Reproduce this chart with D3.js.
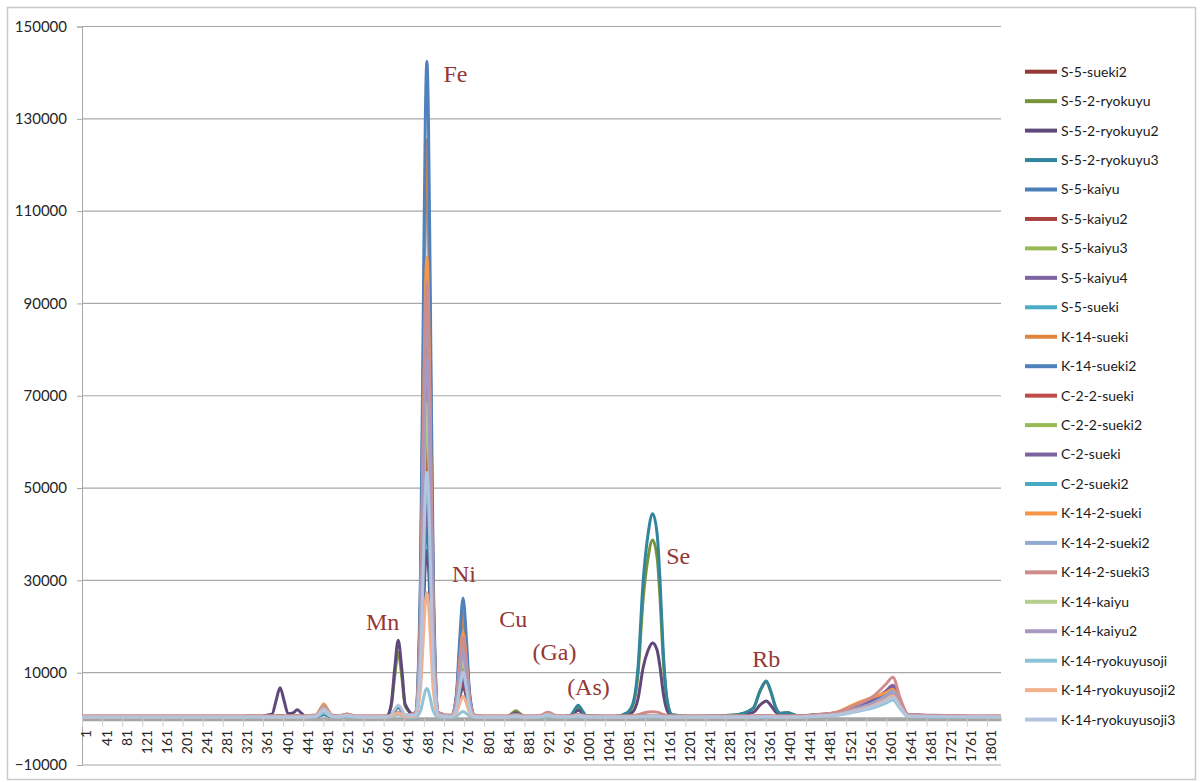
<!DOCTYPE html>
<html>
<head>
<meta charset="utf-8">
<script src="https://cdn.jsdelivr.net/npm/d3@7"></script>
<style>
  body { margin: 0; background: #fff; }
  text { font-family: Lato, "Open Sans", sans-serif; }
</style>
</head>
<body>
<script>
const channels = [1, 300, 340,
  379, 387, 395, 403, 411, 421, 429, 437, 445,
  466, 474, 482, 490, 498,
  512, 520, 528, 536, 544,
  580,
  607, 616, 623, 630, 637, 644,
  664, 674, 680, 684, 687, 690, 694, 700, 710,
  736, 746, 752, 759, 766, 772, 782,
  820,
  848, 856, 864, 872, 880,
  912, 920, 928, 936, 944,
  972, 980, 988, 996, 1004,
  1060,
  1085, 1097, 1107, 1117, 1127, 1136, 1145, 1151, 1157, 1165, 1175,
  1220, 1300,
  1336, 1350, 1362, 1372, 1381, 1390,
  1404, 1422,
  1450, 1500, 1540, 1575, 1600, 1614, 1628, 1645,
  1829];

const seriesNames = ["S-5-sueki2", "S-5-2-ryokuyu", "S-5-2-ryokuyu2", "S-5-2-ryokuyu3",
  "S-5-kaiyu", "S-5-kaiyu2", "S-5-kaiyu3", "S-5-kaiyu4", "S-5-sueki", "K-14-sueki",
  "K-14-sueki2", "C-2-2-sueki", "C-2-2-sueki2", "C-2-sueki", "C-2-sueki2", "K-14-2-sueki",
  "K-14-2-sueki2", "K-14-2-sueki3", "K-14-kaiyu", "K-14-kaiyu2", "K-14-ryokuyusoji",
  "K-14-ryokuyusoji2", "K-14-ryokuyusoji3"];

const seriesColors = ["#953735", "#77933c", "#5f497a", "#31859c", "#4a7ebb", "#a7423f",
  "#98b954", "#7e62a1", "#4bacc6", "#e0853e", "#4f81bd", "#be4b48", "#98b954", "#7d60a0",
  "#46aac5", "#f79646", "#8fa9d1", "#cf8c8a", "#b5ce8d", "#a898c2", "#8cc3d6", "#f2b08d",
  "#b4c4df"];

const S5sueki2 = [400, 400, 450, 400, 400, 400, 400, 400, 400, 400, 400, 400,
  600, 1610, 2600, 1610, 600, 450, 680, 900, 680, 450, 400,
  410, 540, 970, 1300, 970, 540,
  910, 15370, 46540, 67490, 73400, 67490, 46540, 15370, 910,
  470, 2450, 6720, 10400, 6720, 2450, 470, 400,
  430, 570, 700, 570, 430, 450, 730, 1000, 730, 450, 440, 620, 800, 620, 440, 400,
  400, 410, 450, 530, 580, 600, 580, 530, 470, 420, 400, 400, 400,
  420, 470, 500, 465, 420, 400, 400, 400,
  660, 1080, 2220, 3480, 4980, 6000, 3300, 720, 400];

const S52ryokuyu = [450, 450, 450, 480, 620, 750, 620, 490, 560, 650, 560, 470,
  500, 780, 1050, 780, 500, 480, 620, 750, 620, 480, 450,
  550, 2690, 9270, 14450, 9270, 2690,
  770, 9880, 29520, 42720, 46450, 42720, 29520, 9880, 770,
  510, 2190, 5820, 8950, 5820, 2190, 510, 450,
  570, 1170, 1750, 1170, 570, 510, 840, 1150, 840, 510, 620, 1500, 2350, 1500, 620, 500,
  1220, 3020, 9800, 25730, 34920, 38750, 34920, 25730, 13090, 3630, 830, 500, 850,
  2260, 6040, 8000, 5550, 2400, 1210, 1300, 750,
  550, 900, 1850, 2900, 4150, 5000, 2750, 600, 450];

const S52ryokuyu2 = [450, 450, 450, 1020, 3920, 6750, 3920, 1100, 1280, 1950, 1280, 590,
  500, 730, 950, 730, 500, 480, 620, 750, 620, 480, 450,
  570, 3110, 10910, 17050, 10910, 3110,
  700, 7830, 23200, 33530, 36450, 33530, 23200, 7830, 700,
  500, 1780, 4560, 6950, 4560, 1780, 500, 450,
  520, 890, 1250, 890, 520, 530, 950, 1350, 950, 530, 580, 1220, 1850, 1220, 580, 500,
  770, 1520, 4350, 11010, 14850, 16450, 14850, 11010, 5730, 1780, 610, 500, 750,
  1390, 3010, 3850, 2800, 1450, 940, 1000, 650,
  770, 1260, 2590, 4060, 5810, 7000, 3850, 840, 450];

const S52ryokuyu3 = [450, 450, 450, 470, 560, 650, 560, 475, 505, 550, 505, 460,
  500, 730, 950, 730, 500, 480, 620, 750, 620, 480, 450,
  465, 770, 1710, 2450, 1710, 770,
  740, 8860, 26360, 38130, 41450, 38130, 26360, 8860, 740,
  500, 1990, 5190, 7950, 5190, 1990, 500, 450,
  500, 780, 1050, 780, 500, 510, 840, 1150, 840, 510, 680, 1830, 2950, 1830, 680, 500,
  1330, 3400, 11190, 29490, 40050, 44450, 40050, 29490, 14970, 4100, 890, 550, 850,
  2300, 6180, 8200, 5680, 2440, 1220, 1350, 750,
  530, 860, 1780, 2780, 3980, 4800, 2640, 580, 450];

const S5kaiyu = [400, 400, 450, 400, 400, 400, 400, 400, 400, 400, 400, 400,
  580, 1500, 2400, 1500, 580, 450, 680, 900, 680, 450, 400,
  410, 560, 1030, 1400, 1030, 560,
  1240, 25000, 76240, 110680, 120400, 110680, 76240, 25000, 1240,
  550, 4910, 14300, 22400, 14300, 4910, 550, 400,
  430, 570, 700, 570, 430, 450, 680, 900, 680, 450, 440, 620, 800, 620, 440, 400,
  400, 410, 450, 530, 580, 600, 580, 530, 470, 420, 400, 400, 400,
  420, 470, 500, 465, 420, 400, 400, 400,
  750, 1220, 2520, 3940, 5640, 6800, 3740, 820, 400];

const S5kaiyu2 = [400, 400, 450, 400, 400, 400, 400, 400, 400, 400, 400, 400,
  560, 1390, 2200, 1390, 560, 440, 620, 800, 620, 440, 400,
  410, 530, 900, 1200, 900, 530,
  820, 12700, 38320, 55540, 60400, 55540, 38320, 12700, 820,
  450, 1940, 5140, 7900, 5140, 1940, 450, 400,
  430, 570, 700, 570, 430, 450, 680, 900, 680, 450, 430, 570, 700, 570, 430, 400,
  400, 410, 450, 530, 580, 600, 580, 530, 470, 420, 400, 400, 400,
  420, 470, 500, 465, 420, 400, 400, 400,
  610, 990, 2040, 3190, 4570, 5500, 3030, 660, 400];

const S5kaiyu3 = [400, 400, 450, 400, 400, 400, 400, 400, 400, 400, 400, 400,
  570, 1450, 2300, 1450, 570, 440, 620, 800, 620, 440, 400,
  410, 530, 900, 1200, 900, 530,
  890, 14750, 44640, 64730, 70400, 64730, 44640, 14750, 890,
  490, 2960, 8300, 12900, 8300, 2960, 490, 400,
  430, 570, 700, 570, 430, 450, 680, 900, 680, 450, 430, 570, 700, 570, 430, 400,
  400, 410, 450, 530, 580, 600, 580, 530, 470, 420, 400, 400, 400,
  420, 470, 500, 465, 420, 400, 400, 400,
  620, 1010, 2070, 3250, 4650, 5600, 3080, 670, 400];

const S5kaiyu4 = [400, 400, 450, 400, 400, 400, 400, 400, 400, 400, 400, 400,
  580, 1500, 2400, 1500, 580, 450, 680, 900, 680, 450, 400,
  410, 540, 970, 1300, 970, 540,
  720, 9830, 29470, 42670, 46400, 42670, 29470, 9830, 720,
  460, 2140, 5770, 8900, 5770, 2140, 460, 400,
  440, 620, 800, 620, 440, 470, 840, 1200, 840, 470, 430, 570, 700, 570, 430, 400,
  400, 410, 450, 530, 580, 600, 580, 530, 470, 420, 400, 400, 400,
  420, 470, 500, 465, 420, 400, 400, 400,
  800, 1310, 2700, 4230, 6060, 7300, 4020, 880, 400];

const S5sueki = [400, 400, 450, 400, 400, 400, 400, 400, 400, 400, 400, 400,
  580, 1500, 2400, 1500, 580, 450, 680, 900, 680, 450, 400,
  410, 540, 970, 1300, 970, 540,
  790, 11680, 35160, 50950, 55400, 50950, 35160, 11680, 790,
  470, 2450, 6720, 10400, 6720, 2450, 470, 400,
  430, 570, 700, 570, 430, 450, 680, 900, 680, 450, 430, 570, 700, 570, 430, 400,
  400, 410, 450, 530, 580, 600, 580, 530, 470, 420, 400, 400, 400,
  420, 470, 500, 465, 420, 400, 400, 400,
  610, 990, 2040, 3190, 4570, 5500, 3030, 660, 400];

const K14sueki = [400, 400, 450, 400, 400, 400, 400, 400, 400, 400, 400, 400,
  630, 1830, 3000, 1830, 630, 450, 730, 1000, 730, 450, 400,
  410, 560, 1030, 1400, 1030, 560,
  1280, 26030, 79400, 115280, 125400, 115280, 79400, 26030, 1280,
  560, 5010, 14620, 22900, 14620, 5010, 560, 400,
  430, 570, 700, 570, 430, 450, 730, 1000, 730, 450, 440, 620, 800, 620, 440, 400,
  410, 420, 470, 600, 670, 700, 670, 600, 500, 425, 405, 400, 400,
  420, 470, 500, 465, 420, 400, 400, 400,
  680, 1120, 2290, 3600, 5150, 6200, 3410, 740, 400];

const K14sueki2 = [400, 400, 450, 400, 400, 400, 400, 400, 400, 400, 400, 400,
  620, 1720, 2800, 1720, 620, 450, 730, 1000, 730, 450, 400,
  410, 560, 1030, 1400, 1030, 560,
  1390, 29510, 90140, 130900, 142400, 130900, 90140, 29510, 1390,
  580, 5690, 16710, 26200, 16710, 5690, 580, 400,
  430, 570, 700, 570, 430, 450, 730, 1000, 730, 450, 440, 620, 800, 620, 440, 400,
  410, 420, 470, 600, 670, 700, 670, 600, 500, 425, 405, 400, 400,
  420, 470, 500, 465, 420, 400, 400, 400,
  720, 1170, 2410, 3770, 5400, 6500, 3580, 780, 400];

const C22sueki = [400, 400, 450, 400, 400, 400, 400, 400, 400, 400, 400, 400,
  580, 1500, 2400, 1500, 580, 450, 680, 900, 680, 450, 400,
  410, 540, 970, 1300, 970, 540,
  800, 12090, 36420, 52780, 57400, 52780, 36420, 12090, 800,
  470, 2550, 7040, 10900, 7040, 2550, 470, 400,
  430, 570, 700, 570, 430, 460, 790, 1100, 790, 460, 430, 570, 700, 570, 430, 400,
  400, 410, 450, 530, 580, 600, 580, 530, 470, 420, 400, 400, 400,
  420, 470, 500, 465, 420, 400, 400, 400,
  640, 1040, 2150, 3360, 4810, 5800, 3190, 700, 400];

const C22sueki2 = [400, 400, 450, 400, 400, 400, 400, 400, 400, 400, 400, 400,
  580, 1500, 2400, 1500, 580, 450, 680, 900, 680, 450, 400,
  410, 540, 970, 1300, 970, 540,
  860, 13730, 41480, 60140, 65400, 60140, 41480, 13730, 860,
  480, 2860, 7980, 12400, 7980, 2860, 480, 400,
  430, 570, 700, 570, 430, 460, 790, 1100, 790, 460, 430, 570, 700, 570, 430, 400,
  400, 410, 450, 530, 580, 600, 580, 530, 470, 420, 400, 400, 400,
  420, 470, 500, 465, 420, 400, 400, 400,
  620, 1010, 2070, 3250, 4650, 5600, 3080, 670, 400];

const C2sueki = [400, 400, 450, 400, 400, 400, 400, 400, 400, 400, 400, 400,
  600, 1610, 2600, 1610, 600, 450, 680, 900, 680, 450, 400,
  410, 540, 970, 1300, 970, 540,
  960, 16800, 50960, 73920, 80400, 73920, 50960, 16800, 960,
  500, 3370, 9560, 14900, 9560, 3370, 500, 400,
  430, 570, 700, 570, 430, 460, 790, 1100, 790, 460, 430, 570, 700, 570, 430, 400,
  400, 410, 450, 530, 580, 600, 580, 530, 470, 420, 400, 400, 400,
  420, 470, 500, 465, 420, 400, 400, 400,
  750, 1220, 2520, 3940, 5640, 6800, 3740, 820, 400];

const C2sueki2 = [400, 400, 450, 400, 400, 400, 400, 400, 400, 400, 400, 400,
  580, 1500, 2400, 1500, 580, 450, 680, 900, 680, 450, 400,
  410, 540, 970, 1300, 970, 540,
  760, 11060, 33260, 48190, 52400, 48190, 33260, 11060, 760,
  470, 2350, 6400, 9900, 6400, 2350, 470, 400,
  430, 570, 700, 570, 430, 450, 730, 1000, 730, 450, 430, 570, 700, 570, 430, 400,
  400, 410, 450, 530, 580, 600, 580, 530, 470, 420, 400, 400, 400,
  420, 470, 500, 465, 420, 400, 400, 400,
  580, 950, 1960, 3070, 4400, 5300, 2920, 640, 400];

const K142sueki = [400, 400, 450, 400, 400, 400, 400, 400, 400, 400, 400, 400,
  650, 1940, 3200, 1940, 650, 450, 730, 1000, 730, 450, 400,
  410, 560, 1030, 1400, 1030, 560,
  1100, 20800, 63280, 91840, 99900, 91840, 63280, 20800, 1100,
  530, 4130, 11900, 18600, 11900, 4130, 530, 400,
  430, 570, 700, 570, 430, 460, 790, 1100, 790, 460, 440, 620, 800, 620, 440, 400,
  410, 420, 470, 600, 670, 700, 670, 600, 500, 425, 405, 400, 400,
  420, 470, 500, 465, 420, 400, 400, 400,
  700, 1400, 3300, 4700, 5700, 6400, 3500, 750, 400];

const K142sueki2 = [400, 400, 450, 400, 400, 400, 400, 400, 400, 400, 400, 400,
  620, 1720, 2800, 1720, 620, 450, 680, 900, 680, 450, 400,
  410, 540, 970, 1300, 970, 540,
  1020, 18440, 56020, 81270, 88400, 81270, 56020, 18440, 1020,
  510, 3680, 10510, 16400, 10510, 3680, 510, 400,
  430, 570, 700, 570, 430, 460, 790, 1100, 790, 460, 440, 620, 800, 620, 440, 400,
  410, 420, 470, 600, 670, 700, 670, 600, 500, 425, 405, 400, 400,
  420, 470, 500, 465, 420, 400, 400, 400,
  660, 1080, 2220, 3480, 4980, 6000, 3300, 720, 400];

const K142sueki3 = [650, 650, 700, 650, 650, 650, 650, 650, 650, 650, 650, 650,
  830, 1750, 2650, 1750, 830, 690, 870, 1050, 870, 690, 650,
  660, 760, 1090, 1350, 1090, 760,
  1310, 19920, 60060, 87040, 94650, 87040, 60060, 19920, 1310,
  770, 4140, 11390, 17650, 11390, 4140, 770, 650,
  680, 820, 950, 820, 680, 720, 1090, 1450, 1090, 720, 680, 820, 950, 820, 680, 650,
  670, 710, 870, 1240, 1460, 1550, 1460, 1240, 950, 730, 660, 650, 650,
  670, 720, 750, 715, 670, 655, 650, 650,
  750, 1300, 3000, 4900, 7500, 9000, 4600, 900, 650];

const K14kaiyu = [400, 400, 450, 400, 400, 400, 400, 400, 400, 400, 400, 400,
  580, 1500, 2400, 1500, 580, 440, 620, 800, 620, 440, 400,
  410, 530, 900, 1200, 900, 530,
  880, 14340, 43380, 62890, 68400, 62890, 43380, 14340, 880,
  490, 2960, 8300, 12900, 8300, 2960, 490, 400,
  430, 570, 700, 570, 430, 450, 730, 1000, 730, 450, 430, 570, 700, 570, 430, 400,
  400, 410, 450, 530, 580, 600, 580, 530, 470, 420, 400, 400, 400,
  420, 470, 500, 465, 420, 400, 400, 400,
  570, 940, 1920, 3020, 4320, 5200, 2860, 620, 400];

const K14kaiyu2 = [400, 400, 450, 400, 400, 400, 400, 400, 400, 400, 400, 400,
  580, 1500, 2400, 1500, 580, 440, 620, 800, 620, 440, 400,
  410, 530, 900, 1200, 900, 530,
  950, 16390, 49700, 72080, 78400, 72080, 49700, 16390, 950,
  500, 3270, 9250, 14400, 9250, 3270, 500, 400,
  430, 570, 700, 570, 430, 450, 730, 1000, 730, 450, 430, 570, 700, 570, 430, 400,
  400, 410, 450, 530, 580, 600, 580, 530, 470, 420, 400, 400, 400,
  420, 470, 500, 465, 420, 400, 400, 400,
  610, 990, 2040, 3190, 4570, 5500, 3030, 660, 400];

const K14ryokuyusoji = [300, 300, 320, 300, 300, 300, 300, 300, 300, 300, 300, 300,
  390, 850, 1300, 850, 390, 320, 410, 500, 410, 320, 300,
  300, 400, 680, 900, 680, 400,
  340, 1590, 4280, 6090, 6600, 6090, 4280, 1590, 340,
  310, 570, 1120, 1600, 1120, 570, 310, 300,
  310, 355, 400, 355, 310, 320, 410, 500, 410, 320, 310, 355, 400, 355, 310, 300,
  300, 305, 325, 365, 390, 400, 390, 365, 335, 310, 300, 300, 300,
  310, 335, 350, 330, 310, 300, 300, 300,
  450, 740, 1520, 2380, 3400, 4100, 2260, 490, 300];

const K14ryokuyusoji2 = [400, 400, 450, 400, 400, 400, 400, 400, 400, 400, 400, 400,
  560, 1390, 2200, 1390, 560, 440, 620, 800, 620, 440, 400,
  410, 530, 900, 1200, 900, 530,
  590, 5940, 17460, 25210, 27400, 25210, 17460, 5940, 590,
  430, 1320, 3240, 4900, 3240, 1320, 430, 400,
  420, 510, 600, 510, 420, 450, 680, 900, 680, 450, 430, 570, 700, 570, 430, 400,
  400, 410, 450, 530, 580, 600, 580, 530, 470, 420, 400, 400, 400,
  420, 470, 500, 465, 420, 400, 400, 400,
  550, 900, 1850, 2900, 4150, 5000, 2750, 600, 400];

const K14ryokuyusoji3 = [400, 400, 450, 400, 400, 400, 400, 400, 400, 400, 400, 400,
  540, 1280, 2000, 1280, 540, 440, 620, 800, 620, 440, 400,
  420, 820, 2040, 3000, 2040, 820,
  770, 11270, 33900, 49110, 53400, 49110, 33900, 11270, 770,
  470, 2390, 6530, 10100, 6530, 2390, 470, 400,
  420, 510, 600, 510, 420, 450, 680, 900, 680, 450, 430, 570, 700, 570, 430, 400,
  400, 410, 450, 530, 580, 600, 580, 530, 470, 420, 400, 400, 400,
  420, 470, 500, 465, 420, 400, 400, 400,
  510, 830, 1700, 2670, 3820, 4600, 2530, 550, 400];

const seriesValues = [S5sueki2, S52ryokuyu, S52ryokuyu2, S52ryokuyu3, S5kaiyu, S5kaiyu2,
  S5kaiyu3, S5kaiyu4, S5sueki, K14sueki, K14sueki2, C22sueki, C22sueki2, C2sueki, C2sueki2,
  K142sueki, K142sueki2, K142sueki3, K14kaiyu, K14kaiyu2, K14ryokuyusoji, K14ryokuyusoji2,
  K14ryokuyusoji3];

const yTicks = [-10000, 10000, 30000, 50000, 70000, 90000, 110000, 130000, 150000];
const xTicks = d3.range(1, 1802, 40);

// element labels, placed in data units (channel, counts)
const peakLabels = ["Fe", "Ni", "Mn", "Cu", "(Ga)", "(As)", "Se", "Rb"];
const peakChannels = [720, 737, 566, 831, 897, 966, 1163, 1334];
const peakCounts = [138000, 29600, 19200, 19900, 12700, 5200, 33500, 11200];

const width = 1200, height = 782;
const plot = { left: 82, right: 1001, top: 26.5, bottom: 765 };

const svg = d3.select("body").append("svg")
    .attr("width", width)
    .attr("height", height);

svg.append("rect")
    .attr("x", 7.5).attr("y", 7.5)
    .attr("width", 1188).attr("height", 772)
    .attr("fill", "#fff")
    .attr("stroke", "#c9c9c9")
    .attr("stroke-width", 1.5);

const x = d3.scaleLinear().domain([1, 1829]).range([plot.left, plot.right]);
const y = d3.scaleLinear().domain([-10000, 150000]).range([plot.bottom, plot.top]);

// gridlines
svg.append("g")
    .selectAll("line")
    .data(yTicks)
    .join("line")
    .attr("x1", plot.left).attr("x2", plot.right)
    .attr("y1", d => y(d)).attr("y2", d => y(d))
    .attr("stroke", "#a8a8a8")
    .attr("stroke-width", 1.2);

const yAxis = svg.append("g")
    .attr("transform", `translate(${plot.left},0)`)
    .call(d3.axisLeft(y).tickValues(yTicks).tickSize(5).tickPadding(10).tickFormat(d3.format("d")));
yAxis.select(".domain").attr("stroke", "#a8a8a8");
yAxis.selectAll(".tick line").attr("stroke", "#a8a8a8");
yAxis.selectAll("text")
    .style("font-size", "15px")
    .attr("fill", "#262626");

const xAxis = svg.append("g")
    .attr("transform", `translate(0,${y(0)})`)
    .call(d3.axisBottom(x).tickValues(xTicks).tickSize(8).tickSizeOuter(0).tickFormat(d3.format("d")));
xAxis.select(".domain").attr("stroke", "#a6a6a6").attr("stroke-width", 4);
xAxis.selectAll(".tick line").attr("stroke", "#d0d0d0");
xAxis.selectAll("text")
    .attr("transform", "rotate(-90)")
    .attr("x", -11)
    .attr("y", 4)
    .attr("dy", "0.35em")
    .style("text-anchor", "end")
    .style("font-size", "14px")
    .attr("fill", "#262626");

const line = d3.line()
    .defined(d => d != null)
    .x((d, i) => x(channels[i]))
    .y(d => y(d))
    .curve(d3.curveMonotoneX);

svg.append("g")
    .selectAll("path")
    .data(seriesValues)
    .join("path")
    .attr("d", line)
    .attr("fill", "none")
    .attr("stroke", (d, i) => seriesColors[i])
    .attr("stroke-width", 3)
    .attr("stroke-linejoin", "round");

svg.append("g")
    .selectAll("text")
    .data(peakLabels)
    .join("text")
    .attr("x", (d, i) => x(peakChannels[i]))
    .attr("y", (d, i) => y(peakCounts[i]))
    .style("font-family", "'Liberation Serif', serif")
    .style("font-size", "24px")
    .attr("fill", "#953735")
    .text(d => d);

// legend
const legend = svg.append("g")
    .selectAll("g")
    .data(seriesNames)
    .join("g")
    .attr("transform", (d, i) => `translate(1025,${71.7 + i * 29.45})`);

legend.append("line")
    .attr("x1", 0).attr("x2", 32)
    .attr("stroke", (d, i) => seriesColors[i])
    .attr("stroke-width", 4);

legend.append("text")
    .attr("x", 36)
    .attr("dy", "0.35em")
    .style("font-size", "14px")
    .attr("fill", "#1a1a1a")
    .text(d => d);
</script>
</body>
</html>
